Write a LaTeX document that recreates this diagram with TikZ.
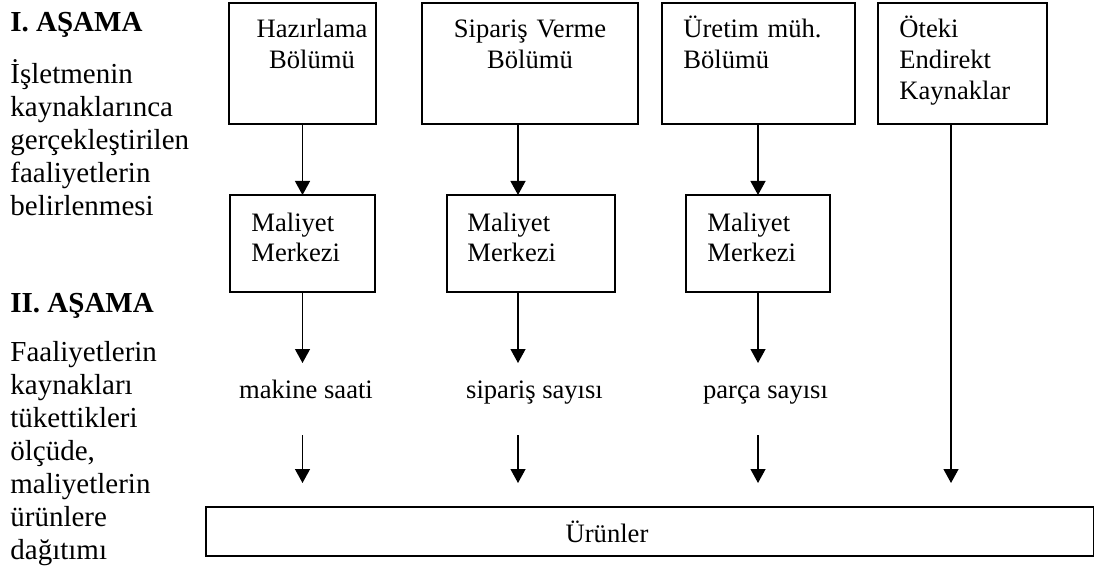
\documentclass[tikz,border=0pt]{standalone}
\usepackage{fontspec}
\setmainfont{Liberation Serif}
\usetikzlibrary{arrows.meta}
\tikzset{
  box/.style={draw, line width=0.65pt, inner sep=0pt, outer sep=0pt},
  arr/.style={line width=0.65pt, -{Triangle[length=7pt,width=7.5pt]}},
  boxtxt/.style={inner sep=0pt, text width=90pt, font=\fontsize{13.3pt}{15.5pt}\selectfont},
  cctxt/.style={inner sep=0pt, text width=70pt, align=left, font=\fontsize{13.3pt}{15pt}\selectfont},
  lbl/.style={inner sep=0pt, font=\fontsize{13.3pt}{15.5pt}\selectfont},
  head/.style={inner sep=0pt, font=\bfseries\fontsize{14.5pt}{16.5pt}\selectfont},
  side/.style={inner sep=0pt, text width=100pt, align=left, font=\fontsize{14.5pt}{16.5pt}\selectfont}
}
\begin{document}
\begin{tikzpicture}[x=0.5pt,y=-0.5pt]
\useasboundingbox (0,0) rectangle (1095,571);

% stage descriptions on the left
\node[head, anchor=base west] (h1) at (10,32) {I. AŞAMA};
\node[side, anchor=base west] (d1) at (10,84)
  {İşletmenin\\kaynaklarınca\\gerçekleştirilen\\faaliyetlerin\\belirlenmesi};
\node[head, anchor=base west] (h2) at (10,312) {II. AŞAMA};
\node[side, anchor=base west] (d2) at (10,361)
  {Faaliyetlerin\\kaynakları\\tükettikleri\\ölçüde,\\maliyetlerin\\ürünlere\\dağıtımı};

% resource departments
\node[box, minimum width=73.5pt, minimum height=60.5pt] (b1) at (302.5,63.5) {};
\node[box, minimum width=108pt,  minimum height=60.5pt] (b2) at (530,63.5) {};
\node[box, minimum width=96.5pt, minimum height=60.5pt] (b3) at (758.5,63.5) {};
\node[box, minimum width=84.5pt, minimum height=60.5pt] (b4) at (962.5,63.5) {};

\node[boxtxt, align=center, anchor=base] (b1t) at (312,38) {Hazırlama\\Bölümü};
\node[boxtxt, align=center, anchor=base] (b2t) at (530,38) {Sipariş Verme\\Bölümü};
\node[boxtxt, align=left, anchor=base west] (b3t) at (683,38) {Üretim müh.\\Bölümü};
\node[boxtxt, align=left, anchor=base west] (b4t) at (899,38) {Öteki\\Endirekt\\Kaynaklar};

% cost centres
\node[box, minimum width=72.5pt, minimum height=48.5pt] (m1) at (302.5,243.5) {};
\node[box, minimum width=84pt,   minimum height=48.5pt] (m2) at (531,243.5) {};
\node[box, minimum width=72pt,   minimum height=48.5pt] (m3) at (758,243.5) {};

\node[cctxt, anchor=base west] (m1t) at (251,232) {Maliyet\\Merkezi};
\node[cctxt, anchor=base west] (m2t) at (467,232) {Maliyet\\Merkezi};
\node[cctxt, anchor=base west] (m3t) at (707,232) {Maliyet\\Merkezi};

% cost drivers
\node[lbl, anchor=base] (l1) at (306,398) {makine saati};
\node[lbl, anchor=base] (l2) at (534.5,398) {sipariş sayısı};
\node[lbl, anchor=base] (l3) at (765.5,398) {parça sayısı};

% products
\node[box, minimum width=443.75pt, minimum height=24.5pt] (u) at (649.75,531.5) {};
\node[lbl, anchor=base] (ut) at (607,542) {Ürünler};

% arrow levels and off-centre columns
\coordinate (r1) at (0,363);
\coordinate (r2) at (0,435);
\coordinate (r3) at (0,483);
\coordinate (c2) at (518,0);
\coordinate (c4) at (951,0);

% connectors
\draw[arr] (b1) -- (m1);
\draw[arr] (b2.south -| c2) -- (m2.north -| c2);
\draw[arr] (b3.south -| m3) -- (m3);
\draw[arr] (b4.south -| c4) -- (c4 |- r3);

\draw[arr] (m1) -- (m1 |- r1);
\draw[arr] (m2.south -| c2) -- (c2 |- r1);
\draw[arr] (m3) -- (m3 |- r1);

\draw[arr] (m1 |- r2) -- (m1 |- r3);
\draw[arr] (c2 |- r2) -- (c2 |- r3);
\draw[arr] (m3 |- r2) -- (m3 |- r3);
\end{tikzpicture}
\end{document}
